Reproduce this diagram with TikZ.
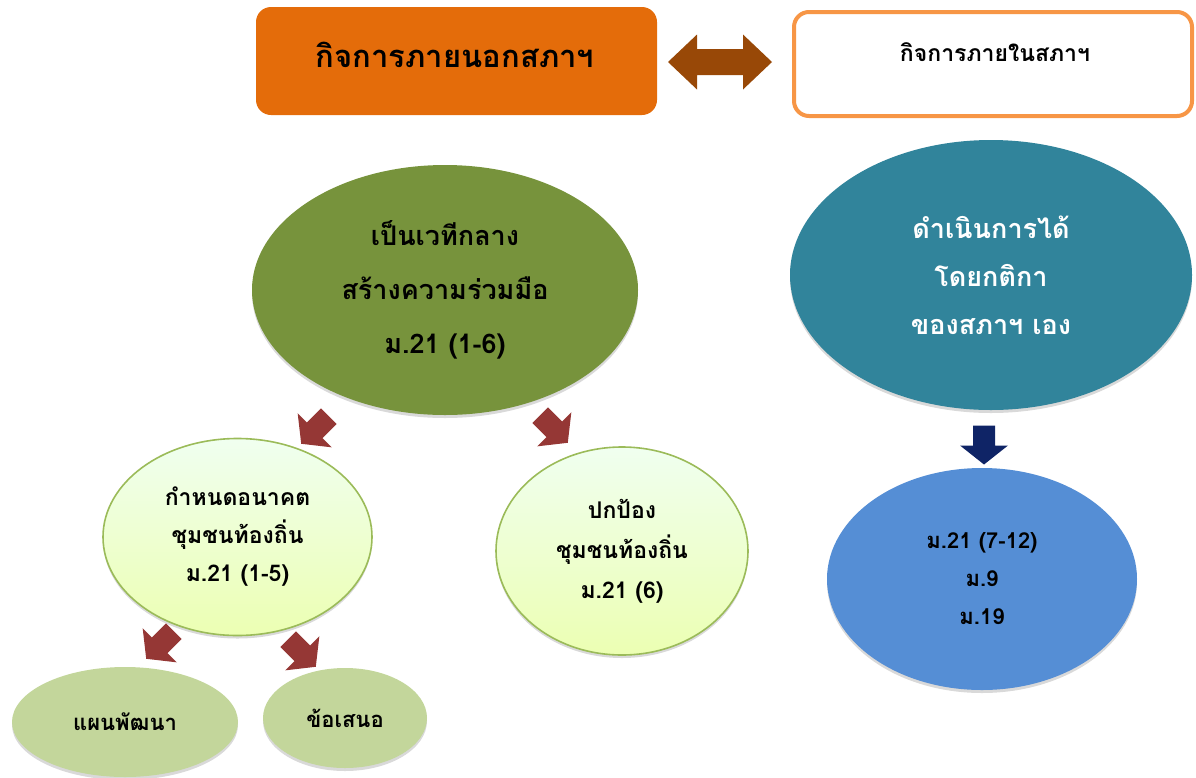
\documentclass[tikz,border=0pt]{standalone}
\usepackage{fontspec}
\setmainfont[Script=Thai]{Loma}
\usetikzlibrary{shapes.geometric,shadows}
\definecolor{camdam}{HTML}{E46C0A}
\definecolor{camnhat}{HTML}{F79646}
\definecolor{nau}{HTML}{984807}
\definecolor{reu}{HTML}{77933C}
\definecolor{teal}{HTML}{31849B}
\definecolor{dodo}{HTML}{953735}
\definecolor{xanhnhat}{HTML}{9BBB59}
\definecolor{reunhat}{HTML}{C3D69B}
\definecolor{navy}{HTML}{0F2466}
\definecolor{xanhduong}{HTML}{558ED5}
\tikzset{
 oval/.style={ellipse, align=center, inner sep=0pt},
 bong/.style={drop shadow={opacity=.3, shadow xshift=0pt, shadow yshift=-3pt}},
 chuoi/.style={oval, draw=xanhnhat, line width=1.6pt, top color=green!6!white, bottom color=green!25!yellow!30!white, bong},
 blockarrow/.pic={\fill (-19.5,11)--(0.5,11)--(0.5,24)--(19.5,0)--(0.5,-24)--(0.5,-11)--(-19.5,-11)--cycle;},
 doublearrow/.pic={\fill (-52,0)--(-23,-27.5)--(-23,-13)--(23,-13)--(23,-27.5)--(52,0)--(23,27.5)--(23,13)--(-23,13)--(-23,27.5)--cycle;}
}
\begin{document}
\begin{tikzpicture}[x=1pt, y=-1pt, every node/.append style={font=\bfseries}]
\useasboundingbox (0,0) rectangle (1196,777);
% hai o tren cung
\node[rounded corners=15pt, fill=camdam, minimum width=401, minimum height=108] (ngoai) at (456.5,61) {};
\node[font=\fontsize{31}{36}\selectfont\bfseries] (ngoaitxt) at (455,55) {กิจการภายนอกสภาฯ};
\node[rounded corners=15pt, draw=camnhat, line width=4pt, fill=white, minimum width=398, minimum height=104] (trong) at (993,64) {};
\node[font=\fontsize{23}{26}\selectfont\bfseries] (trongtxt) at (995,52) {กิจการภายในสภาฯ};
\pic[fill=nau] (haichieu) at (720,62) {doublearrow};
% nhanh trai
\node[oval, fill=reu, bong, minimum width=386, minimum height=250, font=\fontsize{27}{54}\selectfont\bfseries] (vethi) at (445,290) {เป็นเวทีกลาง\\สร้างความร่วมมือ\\ม.21 (1-6)};
\node[chuoi, minimum width=269, minimum height=197, font=\fontsize{23}{38}\selectfont\bfseries] (anakhot) at (237.5,537) {กำหนดอนาคต\\ชุมชนท้องถิ่น\\ม.21 (1-5)};
\node[chuoi, minimum width=252, minimum height=208, font=\fontsize{23}{40}\selectfont\bfseries] (pokpong) at (622,551) {ปกป้อง\\ชุมชนท้องถิ่น\\ม.21 (6)};
\node[oval, fill=reunhat, bong, minimum width=226, minimum height=110, font=\fontsize{22}{26}\selectfont\bfseries] (phaen) at (125,722) {แผนพัฒนา};
\node[oval, fill=reunhat, bong, minimum width=164, minimum height=100, font=\fontsize{22}{26}\selectfont\bfseries] (sanoe) at (345,718) {ข้อเสนอ};
\pic[fill=dodo, rotate=-135] (mui1) at (315,430) {blockarrow};
\pic[fill=dodo, rotate=-45] (mui2) at (554,429) {blockarrow};
\pic[fill=dodo, rotate=-135] (mui3) at (160,645) {blockarrow};
\pic[fill=dodo, rotate=-45] (mui4) at (302,653) {blockarrow};
% nhanh phai
\node[oval, fill=teal, bong, text=white, minimum width=402, minimum height=270, font=\fontsize{27}{48}\selectfont\bfseries] (tika) at (991,275) {ดำเนินการได้\\โดยกติกา\\ของสภาฯ เอง};
\node[oval, fill=xanhduong, bong, minimum width=310, minimum height=222, font=\fontsize{22}{38}\selectfont\bfseries] (matra) at (982,579) {ม.21 (7-12)\\ม.9\\ม.19};
\pic[fill=navy, rotate=-90] (mui5) at (984,445) {blockarrow};
\end{tikzpicture}
\end{document}
